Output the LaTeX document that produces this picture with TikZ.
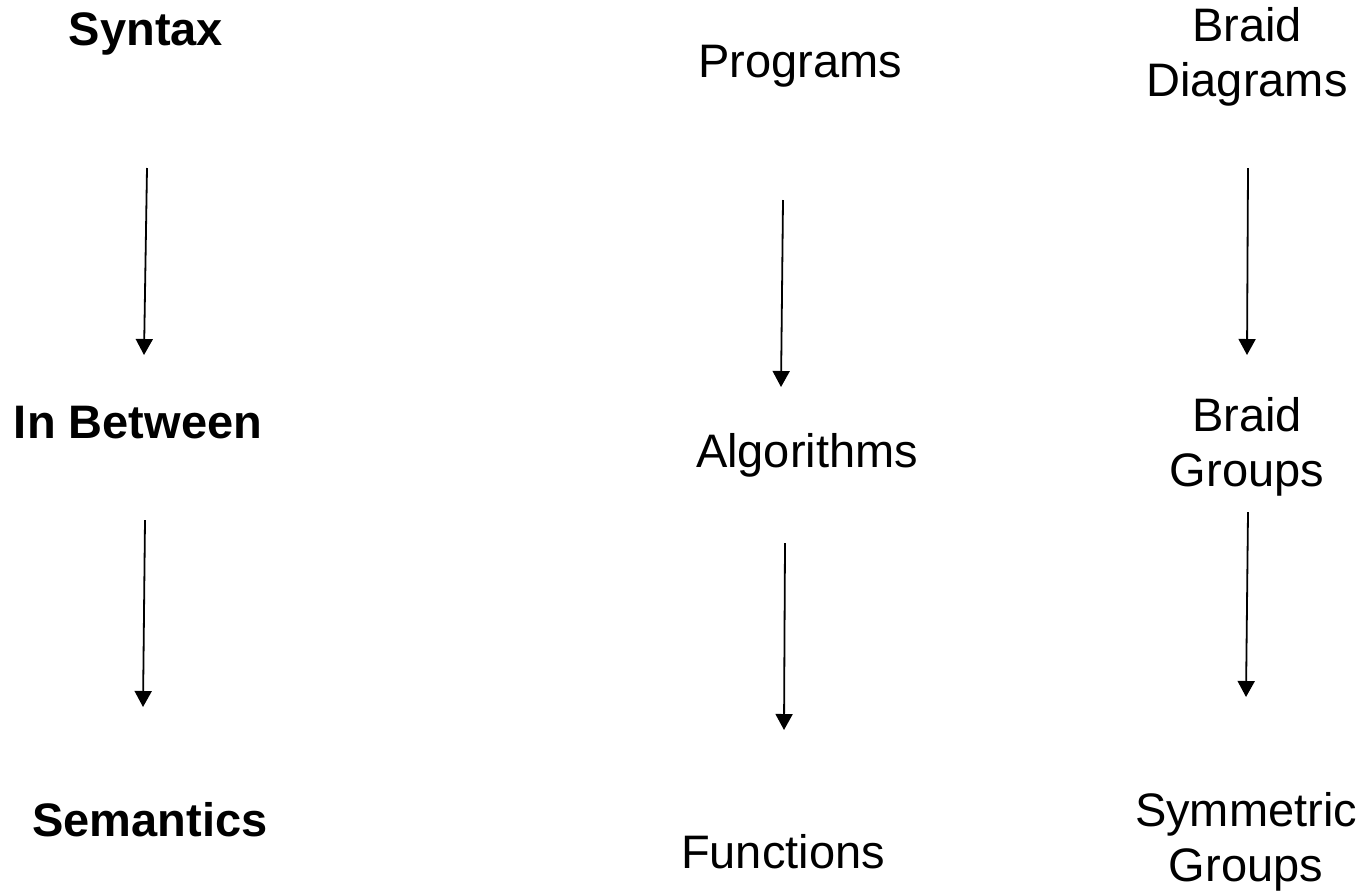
\documentclass[tikz,border=0pt]{standalone}
\usepackage{fontspec}
\setmainfont{Liberation Sans}
\usetikzlibrary{arrows.meta}
\begin{document}
\begin{tikzpicture}[x=1pt,y=-1pt,
  lbl/.style={inner sep=0pt,align=center,font=\fontsize{47}{55}\selectfont},
  hdr/.style={lbl,font=\fontsize{47}{55}\selectfont\bfseries},
  arr/.style={line width=1.8pt,-{Triangle[width=17pt,length=16pt]}}]
\useasboundingbox (0,0) rectangle (1367,892);
% row headings
\node[hdr] (syn) at (146,34) {Syntax};
\node[hdr] (mid) at (138,423) {In Between};
\node[hdr] (sem) at (150,820) {Semantics};
% programs column
\node[lbl] (prog) at (800,66) {Programs};
\node[lbl] (alg) at (807,455) {Algorithms};
\node[lbl] (fun) at (783,852) {Functions};
% braids column
\node[lbl] (bd) at (1247,57) {Braid\\Diagrams};
\node[lbl] (bg) at (1247,447) {Braid\\Groups};
\node[lbl] (sg) at (1246,842) {Symmetric\\Groups};
% arrow end points
\coordinate (a1s) at (147,168); \coordinate (a1e) at (144,355);
\coordinate (a2s) at (145,520); \coordinate (a2e) at (143,707);
\coordinate (b1s) at (783,200); \coordinate (b1e) at (781,387);
\coordinate (b2s) at (785,543); \coordinate (b2e) at (784,730);
\coordinate (c1s) at (1248,168); \coordinate (c1e) at (1247,355);
\coordinate (c2s) at (1248,512); \coordinate (c2e) at (1246,697);
\draw[arr] (a1s) -- (a1e);
\draw[arr] (a2s) -- (a2e);
\draw[arr] (b1s) -- (b1e);
\draw[arr] (b2s) -- (b2e);
\draw[arr] (c1s) -- (c1e);
\draw[arr] (c2s) -- (c2e);
\end{tikzpicture}
\end{document}
